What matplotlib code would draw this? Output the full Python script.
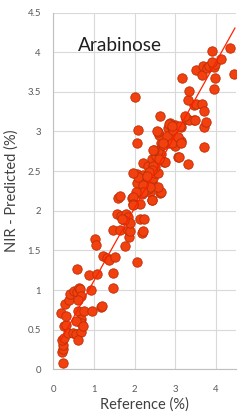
import numpy as np
import matplotlib
matplotlib.use("Agg")
import matplotlib.pyplot as plt

plt.rcParams['font.family'] = ['Lato', 'DejaVu Sans']

# reference value (%) vs NIR predicted value (%)
ref_x = [0.24, 0.20, 0.23, 0.24, 0.22, 0.26, 0.26, 0.30, 0.18, 0.30,
         0.28, 0.39, 0.42, 0.50, 0.57, 0.64, 0.66, 0.69, 0.60, 0.37,
         0.49, 0.55, 0.67, 0.61, 0.61, 0.69, 0.69, 0.55, 0.72, 0.75,
         0.94, 1.17, 1.19, 0.92, 1.47, 0.59, 0.88, 1.08, 1.47, 2.05,
         1.02, 1.05, 1.23, 1.31, 1.37, 1.51, 1.46, 1.65, 1.76, 1.87,
         1.84, 1.88, 2.19, 1.56, 1.66, 1.78, 1.83, 1.88, 2.13, 2.23,
         1.60, 1.64, 1.93, 1.99, 2.13, 2.05, 2.17, 2.38, 2.42, 2.62,
         2.66, 2.32, 2.30, 2.42, 2.07, 2.05, 2.21, 2.30, 2.46, 2.50,
         2.57, 2.09, 2.37, 2.50, 2.21, 2.33, 2.44, 2.52, 2.66, 2.58,
         2.48, 2.73, 3.07, 3.32, 2.75, 3.10, 3.71, 2.05, 2.66, 2.84,
         2.99, 3.14, 3.07, 2.87, 2.61, 2.57, 2.09, 2.83, 2.93, 2.99,
         3.14, 2.87, 3.28, 3.47, 2.62, 3.71, 3.77, 3.26, 3.46, 3.51,
         3.67, 3.71, 3.32, 3.34, 3.16, 2.01, 3.51, 3.65, 3.69, 3.79,
         3.84, 3.95, 3.98, 3.90, 4.12, 3.90, 4.36, 4.46, 3.98, 3.95,
         2.70, 2.46, 2.54, 2.80, 2.94, 3.12, 2.91, 2.70, 2.61, 2.46,
         2.42, 2.36, 1.97, 2.30, 2.58, 2.38, 2.21, 2.21, 2.03, 1.97,
         1.95, 2.42, 1.74, 1.68, 2.21, 1.97, 3.07, 3.15, 3.34, 3.49,
         3.24, 2.85, 2.91]
nir_y = [0.08, 0.22, 0.26, 0.31, 0.37, 0.40, 0.54, 0.56, 0.71, 0.67,
         0.82, 0.88, 0.95, 0.99, 0.97, 1.03, 1.01, 0.92, 0.88, 0.46,
         0.46, 0.45, 0.47, 0.37, 0.73, 0.64, 0.58, 0.61, 0.55, 0.74,
         0.74, 0.78, 0.80, 1.00, 1.03, 1.27, 1.19, 1.20, 1.22, 1.35,
         1.64, 1.57, 1.43, 1.41, 1.38, 1.42, 1.76, 1.76, 1.55, 1.67,
         1.76, 1.74, 1.72, 1.96, 1.93, 1.96, 1.92, 1.84, 1.90, 1.89,
         2.16, 2.19, 2.16, 2.09, 2.08, 2.22, 2.21, 2.23, 2.14, 2.22,
         2.23, 2.28, 2.37, 2.36, 2.35, 2.46, 2.45, 2.43, 2.41, 2.47,
         2.47, 2.43, 2.52, 2.55, 2.60, 2.57, 2.65, 2.69, 2.71, 2.75,
         2.77, 2.62, 2.68, 2.59, 2.61, 2.68, 2.80, 2.85, 2.85, 2.85,
         2.82, 2.88, 2.92, 2.95, 2.95, 2.99, 3.02, 3.04, 3.06, 3.08,
         3.06, 3.11, 3.16, 3.14, 3.20, 3.05, 3.12, 3.16, 3.33, 3.35,
         3.35, 3.26, 3.40, 3.51, 3.68, 3.44, 3.77, 3.71, 3.82, 3.80,
         3.82, 3.81, 3.85, 3.88, 3.91, 4.02, 4.05, 3.72, 3.67, 3.54,
         2.83, 2.77, 3.00, 2.94, 3.02, 3.07, 2.85, 2.85, 2.65, 2.56,
         2.52, 2.49, 2.48, 2.44, 2.30, 2.30, 2.32, 2.24, 2.23, 2.17,
         2.08, 2.13, 1.88, 1.90, 1.75, 2.07, 2.93, 2.85, 3.15, 3.15,
         3.19, 3.09, 3.07]

# linear trendline
slope = 0.918
intercept = 0.20
line_x = [min(ref_x), 4.47]

title = "Arabinose"
xlabel = "Reference (%)"
ylabel = "NIR - Predicted (%)"

fig = plt.figure(figsize=(2.52, 4.2), dpi=100)
ax = fig.add_axes([0.212, 0.1207, 0.725, 0.8495])

ax.scatter(ref_x, nir_y, s=46, facecolor="#F2400E", edgecolor="#BE2E06",
           linewidth=0.6, zorder=2)
lx = np.array(line_x)
ax.plot(lx, slope * lx + intercept, color="#FF2200", linewidth=0.9, zorder=3)

ax.set_xlim(0, 4.5)
ax.set_ylim(0, 4.5)
ax.set_xticks([0, 1, 2, 3, 4])
ax.set_yticks(np.arange(0, 4.51, 0.5))
ax.set_yticklabels(["0", "0.5", "1", "1.5", "2", "2.5", "3", "3.5", "4", "4.5"])
ax.grid(color="#d9d9d9", linewidth=0.8, zorder=0)
ax.set_axisbelow(True)
for s in ["top", "right"]:
    ax.spines[s].set_visible(False)
for s in ["left", "bottom"]:
    ax.spines[s].set_color("#bfbfbf")
    ax.spines[s].set_linewidth(0.8)
ax.tick_params(length=0, labelsize=6.9, labelcolor="#595959")
ax.tick_params(axis="y", pad=9)
ax.tick_params(axis="x", pad=11)

ax.set_xlabel(xlabel, fontsize=10.5, color="#404040", labelpad=3)
ax.set_ylabel(ylabel, fontsize=10.5, color="#404040", labelpad=6)
fig.text(119.5 / 252, 1 - 51 / 420, title, fontsize=13.7, color="#202020",
         ha="center", va="baseline")

fig.savefig("out.png", dpi=100)
